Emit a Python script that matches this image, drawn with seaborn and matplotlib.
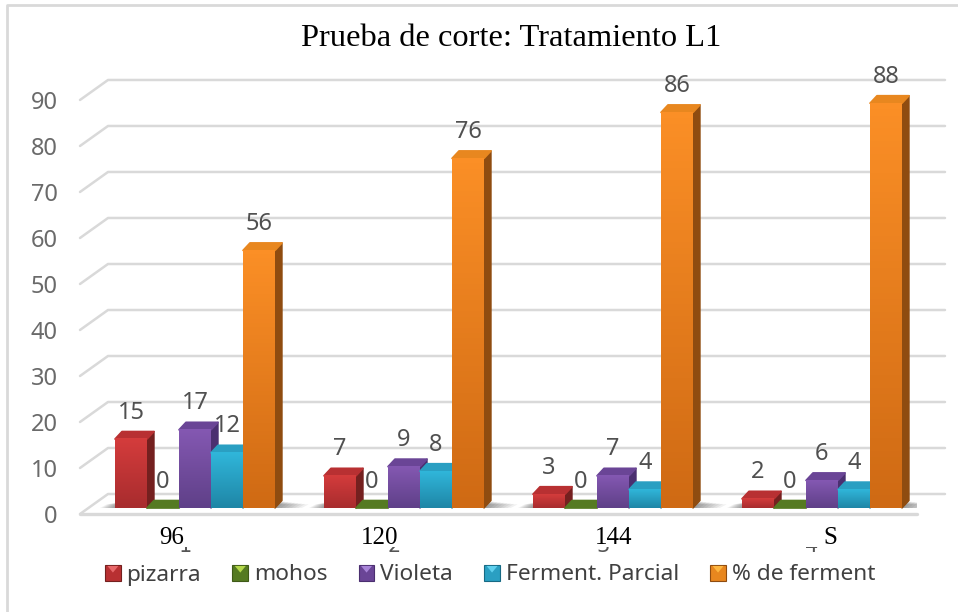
import numpy as np
import pandas as pd
import matplotlib
matplotlib.use("Agg")
import matplotlib.pyplot as plt
from matplotlib.colors import LinearSegmentedColormap
from matplotlib.legend_handler import HandlerPatch
from matplotlib.patches import Patch, Polygon, Rectangle
import seaborn as sns

# datos
categorias = ["1", "2", "3", "4"]
etiquetas = ["96", "120", "144", "S"]
pizarra = [15, 7, 3, 2]
mohos = [0, 0, 0, 0]
violeta = [17, 9, 7, 6]
parcial = [12, 8, 4, 4]
ferment = [56, 76, 86, 88]
series = ["pizarra", "mohos", "Violeta", "Ferment. Parcial", "% de ferment"]
yticks = list(range(0, 100, 10))

# colores: cara frontal (arriba, abajo), lado, tapa, brillo de la leyenda
arriba = ["#d43c3c", "#5c7f26", "#8458b2", "#30b6da", "#fb8f26"]
abajo = ["#a82c2e", "#4c6c1e", "#5f4088", "#1f86a6", "#cf6a14"]
lado = ["#74201f", "#3f5a18", "#4b2f70", "#176a84", "#8f4c10"]
tapa = ["#b83032", "#557a22", "#6a4596", "#2a9fc2", "#e8871f"]
brillo = ["#e8686a", "#b4d84a", "#a884d8", "#5fd0ee", "#fdb640"]

sns.set_theme(style="white")
plt.rcParams["font.family"] = ["Noto Sans", "DejaVu Sans"]

W, H = 958, 612
PX_CAT = 209.0   # px por categoria
PX_VAL = 4.6     # px por unidad
FONDO = 1.3      # el piso frontal queda 6 px debajo de la base
DX, DY = 7 / PX_CAT, 7.5 / PX_VAL   # profundidad de las barras
GRIS = "#d9d9d9"


class HandlerCuadro(HandlerPatch):
    # cuadro de la leyenda con un triangulo claro arriba
    def create_artists(self, legend, orig_handle, xdescent, ydescent, width, height, fontsize, trans):
        cuadro = Rectangle((-xdescent, -ydescent), width, height, facecolor=orig_handle.get_facecolor(),
                           edgecolor=orig_handle.get_edgecolor(), lw=0.8, transform=trans)
        tri = Polygon([(-xdescent + 0.15 * width, -ydescent + height * 0.92),
                       (-xdescent + 0.85 * width, -ydescent + height * 0.92),
                       (-xdescent + 0.5 * width, -ydescent + height * 0.5)],
                      facecolor=orig_handle.get_gid(), lw=0, transform=trans)
        return [cuadro, tri]


df = pd.DataFrame({
    "cat": categorias * 5,
    "serie": np.repeat(series, 4),
    "valor": pizarra + mohos + violeta + parcial + ferment,
})

fig = plt.figure(figsize=(W / 100, H / 100), dpi=100, facecolor="white")
ax = fig.add_axes([80 / W, (H - 514) / H, 837 / W, 420 / H])
sns.barplot(data=df, x="cat", y="valor", hue="serie", hue_order=series, palette=abajo,
            order=categorias, width=160 / PX_CAT, gap=0, errorbar=None, legend=False, ax=ax)

x0, x1 = (80 - 195) / PX_CAT, (917 - 195) / PX_CAT
ax.set_xlim(x0, x1)
ax.set_ylim(-FONDO, 90)
sns.despine(ax=ax, left=True, bottom=True)
ax.set_xlabel("")
ax.set_ylabel("")

# rejilla en perspectiva
sep_x, sep_y = 28 / PX_CAT, 20 / PX_VAL
for v in yticks:
    ax.plot([x0, x0 + sep_x, x1 + sep_x], [v - FONDO, v - FONDO + sep_y, v - FONDO + sep_y],
            color=GRIS, lw=1.8, zorder=1, clip_on=False, solid_joinstyle="round")
ax.plot([x0, x1], [-FONDO, -FONDO], color=GRIS, lw=2.4, zorder=1, clip_on=False)

# sombras en el piso, mas suaves hacia afuera
for i in range(len(categorias)):
    for k in range(8):
        izq = i - 80 / PX_CAT - (k + 1) * 0.009
        der = i + 80 / PX_CAT + (k + 1) * 0.016
        alto = DY * (0.85 - 0.05 * k)
        ax.add_patch(Polygon([(izq, 0), (der, 0), (der + DX, alto), (izq + DX, alto)],
                             facecolor="black", alpha=0.055, lw=0, zorder=1.5))

# barras con volumen
for s, cont in enumerate(ax.containers):
    z = 3 + s
    cmap = LinearSegmentedColormap.from_list(series[s], [arriba[s], abajo[s]])
    for bar in cont:
        xa, w, h = bar.get_x(), bar.get_width(), bar.get_height()
        bar.set_zorder(z)
        bar.set_linewidth(0)
        ax.add_patch(Polygon([(xa + w, 0), (xa + w + DX, DY), (xa + w + DX, h + DY), (xa + w, h)],
                             facecolor=lado[s], edgecolor=lado[s], lw=1, joinstyle="round", zorder=z))
        ax.add_patch(Polygon([(xa, h), (xa + w, h), (xa + w + DX, h + DY), (xa + DX, h + DY)],
                             facecolor=tapa[s], edgecolor=tapa[s], lw=1.2, joinstyle="round", zorder=z,
                             clip_on=False))
        if h > 0:
            ax.imshow(np.linspace(0, 1, 64).reshape(-1, 1), cmap=cmap, aspect="auto",
                      extent=(xa, xa + w, 0, h), origin="upper", zorder=z + 0.1)
        ax.annotate(f"{h:.0f}", (xa + w / 2, h), xytext=(0, 19), textcoords="offset points",
                    ha="center", va="center", fontsize=17, color="#505050", zorder=20,
                    annotation_clip=False)
ax.set_xlim(x0, x1)
ax.set_ylim(-FONDO, 90)

# ejes
ax.set_yticks([v - FONDO for v in yticks], [str(v) for v in yticks])
ax.tick_params(axis="y", length=0, pad=16, labelsize=17, labelcolor="#6a6a6a")
ax.set_xticks(np.arange(len(categorias)) - 10 / PX_CAT, categorias)
ax.tick_params(axis="x", length=0, pad=15.5, labelsize=15, labelcolor="#555555")
for t in ax.get_xticklabels():
    t.set_family("DejaVu Sans")

# tira blanca que tapa las etiquetas originales
ax.add_patch(Rectangle((0, -33 / 420), 1, 25 / 420, transform=ax.transAxes, facecolor="white",
                       lw=0, zorder=15, clip_on=False))
for i, etq in enumerate(etiquetas):
    desv = [-23, -24, 1, 8][i]
    ax.annotate(etq, (i, -FONDO), xytext=(desv * 0.72, -17.5), textcoords="offset points",
                ha="center", va="center", fontsize=18, family="Liberation Serif", color="black",
                zorder=16, annotation_clip=False)

handles = [Patch(facecolor=tapa[s], edgecolor=lado[s], gid=brillo[s], label=series[s]) for s in range(5)]
ax.legend(handles=handles, handler_map={Patch: HandlerCuadro()}, loc="center left",
          bbox_to_anchor=(105 / W, 1 - 575 / H), bbox_transform=fig.transFigure, ncol=5, frameon=False,
          fontsize=16.3, labelcolor="#404040", handlelength=0.7, handleheight=0.7, handletextpad=0.25,
          columnspacing=1.38, borderpad=0, borderaxespad=0)

fig.text(511 / W, 1 - 38 / H, "Prueba de corte: Tratamiento L1", ha="center", va="center",
         fontsize=23.4, family="Liberation Serif", color="black")

# marco exterior
fig.add_artist(plt.Line2D([1, 7 / W, 7 / W], [1 - 5 / H, 1 - 5 / H, 0], color=GRIS, lw=2))

fig.savefig("out.png", dpi=100, facecolor="white")
